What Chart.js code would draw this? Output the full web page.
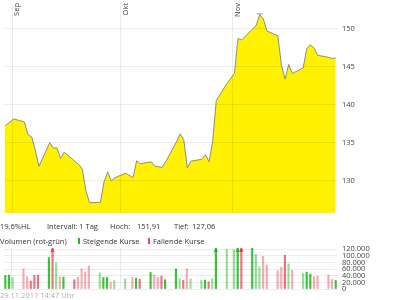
<!DOCTYPE html>
<html>
<head>
<meta charset="utf-8">
<script src="https://cdn.jsdelivr.net/npm/chart.js@4.4.0/dist/chart.umd.min.js"></script>
<style>
  html, body { margin: 0; padding: 0; background: #fff; }
  body { width: 400px; height: 300px; position: relative; overflow: hidden;
         font-family: 'Open Sans', sans-serif; font-size: 7.5px; color: #333; }
  #kurs { position: absolute; left: 0; top: 0; }
  #volumen { position: absolute; left: 0; top: 244px; }
  .txt { position: absolute; white-space: nowrap; line-height: 10px; }
  .icon { position: absolute; width: 2px; height: 6px; }
</style>
</head>
<body>
<canvas id="kurs" width="400" height="218"></canvas>
<canvas id="volumen" width="400" height="50"></canvas>

<div class="txt" style="left:0;top:221px">19,6%HL</div>
<div class="txt" style="left:47px;top:221px">Intervall: 1 Tag</div>
<div class="txt" style="left:110px;top:221px">Hoch:</div>
<div class="txt" style="left:137px;top:221px">151,91</div>
<div class="txt" style="left:174px;top:221px">Tief:</div>
<div class="txt" style="left:192px;top:221px">127,06</div>

<div class="txt" style="left:0;top:236px">Volumen (rot-grün)</div>
<div class="icon" style="left:78px;top:238px;background:#22bb22"></div>
<div class="txt" style="left:83px;top:236px">Steigende Kurse</div>
<div class="icon" style="left:148px;top:238px;background:#ee4a5a"></div>
<div class="txt" style="left:153px;top:236px">Fallende Kurse</div>

<div class="txt" style="left:0;top:290px;color:#b0b0b0">29.11.2017 14:47 Uhr</div>

<script>
// Handelstage, gezählt in Tagen ab dem 1. September 2017
const tage = [-3, -2, -1, 0,
    3, 4, 5, 6, 7,
    10, 11, 12, 13, 14,
    17, 18, 19, 20, 21,
    24, 25, 26, 27, 28,
    31,
    33, 34, 35,
    38, 39, 40, 41, 42,
    45, 46, 47, 48, 49,
    52, 53, 54, 55, 56,
    59,
    61, 62, 63,
    66, 67, 68, 69, 70,
    73, 74, 75, 76, 77,
    80, 81, 82, 83, 84,
    87, 88, 89];

// Schlusskurse
const kurse = [136.9, 137.35, 137.68, 138.11,
    137.69, 136.02, 135.73, 134.0, 131.88,
    134.98, 134.26, 134.3, 132.88, 133.72,
    132.51, 132.13, 131.5, 128.62, 127.1,
    127.15, 129.87, 131.13, 129.96, 130.38,
    130.97,
    130.38, 132.6, 132.22,
    132.47, 131.88, 131.82, 131.72, 132.45,
    135.08, 136.14, 135.39, 131.67, 132.55,
    132.8, 133.39, 132.47, 135.1, 140.53,
    142.79,
    144.08, 148.68, 148.47,
    149.91, 150.35, 151.82, 151.24, 149.65,
    149.02, 145.21, 143.33, 145.26, 144.08,
    144.8, 147.34, 147.84, 147.43, 146.46,
    146.2, 146.05, 146.09];

// Umsatz (Stück)
const volumen = [40000, 41000, 42000, 34000,
    61000, 37000, 24000, 41000, 42000,
    95000, 160000, 79000, 37000, 36000,
    28000, 36000, 61000, 51000, 70000,
    49000, 35000, 35000, 21000, 25000,
    31000,
    36000, 33000, 30000,
    50000, 43000, 35000, 39000, 28000,
    61000, 31000, 26000, 61000, 30000,
    26000, 27000, 22000, 31000, 180000,
    120000,
    118000, 170000, 140000,
    123000, 105000, 67000, 99000, 73000,
    55000, 66000, 102000, 76000, 57000,
    47000, 51000, 45000, 37000, 39000,
    43000, 29000, 26000];

// S/s = steigend, F/f = fallend (Großbuchstabe = kräftiger Balken)
const richtung = ['s', 'S', 'S', 's',
    'f', 'f', 'F', 'F', 'F',
    'S', 'F', 's', 'f', 'S',
    'F', 'f', 'f', 'f', 'f',
    's', 'S', 'S', 'f', 's',
    's',
    'f', 'S', 'F',
    'S', 'f', 'f', 'F', 'S',
    'S', 's', 'F', 'f', 's',
    's', 'S', 'F', 's', 'S',
    's',
    's', 'S', 'F',
    'S', 's', 's', 'f', 'f',
    'f', 'f', 'F', 's', 'f',
    's', 'S', 'S', 'f', 'f',
    'f', 'f', 'S'];

const monate = ['Sep', 'Okt', 'Nov'];
const monatsTage = [0, 30, 61];
const kursTicks = [130, 135, 140, 145, 150];
const volTicks = [0, 20000, 40000, 60000, 80000, 100000, 120000];
const hoch = 151.91;
const hochTag = 68;
const volMax = 124000;

const farben = { S: '#36c636', s: '#92e292', F: '#f0727f', f: '#f9abb3' };
const schrift = { family: 'Open Sans', size: 7.5 };
const gitter = 'rgba(0,0,0,0.075)';

function tausender(v) {
    return String(v).replace(/\B(?=(\d{3})+(?!\d))/g, '.');
}

// X-Achse für beide Diagramme: Gitter am Monatsanfang
function xAchse() {
    return {
        type: 'linear',
        min: -2.37,
        max: 89.35,
        offset: false,
        ticks: { display: false },
        grid: { color: gitter, drawTicks: false, offset: false, z: 1 },
        border: { display: false },
        afterBuildTicks: scale => {
            scale.ticks = monatsTage.map(t => ({ value: t - 0.4 }));
        }
    };
}

function yAchse(min, max, werte, format) {
    return {
        position: 'right',
        min: min,
        max: max,
        ticks: { font: schrift, color: '#444', padding: 5, autoSkip: false, callback: format },
        grid: { color: gitter, drawTicks: false, z: 1 },
        border: { display: false },
        afterBuildTicks: scale => {
            scale.ticks = werte.map(v => ({ value: v }));
        },
        afterFit: scale => {
            scale.width = 63;
            scale.paddingTop = 0;
            scale.paddingBottom = 0;
        }
    };
}

// Monatsnamen senkrecht oben an den Gitterlinien
const monatsLabels = {
    id: 'monatsLabels',
    afterDraw(chart) {
        const ctx = chart.ctx;
        const x = chart.scales.x;
        ctx.save();
        ctx.font = '7.5px "Open Sans"';
        ctx.fillStyle = '#444';
        ctx.textAlign = 'right';
        ctx.textBaseline = 'top';
        monatsTage.forEach((tag, i) => {
            ctx.save();
            ctx.translate(x.getPixelForValue(tag - 0.4) + 1, 3);
            ctx.rotate(-Math.PI / 2);
            ctx.fillText(monate[i], 0, 0);
            ctx.restore();
        });
        ctx.restore();
    }
};

new Chart(document.getElementById('kurs').getContext('2d'), {
    type: 'line',
    data: {
        datasets: [
            {
                data: tage.map((t, i) => ({ x: t, y: kurse[i] })),
                borderColor: '#8c8c8c',
                borderWidth: 1,
                backgroundColor: '#fff100',
                fill: 'start',
                pointRadius: 0,
                tension: 0
            },
            {
                type: 'scatter',
                data: [{ x: hochTag, y: hoch }],
                pointStyle: 'line',
                pointRadius: 3,
                borderColor: '#999',
                borderWidth: 1
            }
        ]
    },
    options: {
        responsive: false,
        animation: false,
        layout: { padding: 0 },
        plugins: { legend: { display: false }, tooltip: { enabled: false } },
        scales: {
            x: xAchse(),
            y: yAchse(125.74, 153.07, kursTicks, v => v)
        }
    },
    plugins: [monatsLabels]
});

const ueberMax = tage.map((t, i) => i).filter(i => volumen[i] > volMax);

new Chart(document.getElementById('volumen').getContext('2d'), {
    type: 'bar',
    data: {
        datasets: [
            {
                data: tage.map((t, i) => ({ x: t, y: volumen[i] })),
                backgroundColor: richtung.map(r => farben[r]),
                barThickness: 1.5,
                grouped: false,
                order: 1
            },
            {
                type: 'scatter',
                data: ueberMax.map(i => ({ x: tage[i], y: volMax * 0.94 })),
                pointStyle: 'triangle',
                pointRadius: 2.5,
                backgroundColor: ueberMax.map(i => richtung[i] === 'F' || richtung[i] === 'f' ? '#ee3344' : '#11bb11'),
                borderWidth: 0,
                order: 0
            }
        ]
    },
    options: {
        responsive: false,
        animation: false,
        layout: { padding: { top: 4, bottom: 5, left: 0, right: 0 } },
        plugins: { legend: { display: false }, tooltip: { enabled: false } },
        scales: {
            x: xAchse(),
            y: yAchse(0, volMax, volTicks, v => tausender(v))
        }
    }
});
</script>
</body>
</html>
